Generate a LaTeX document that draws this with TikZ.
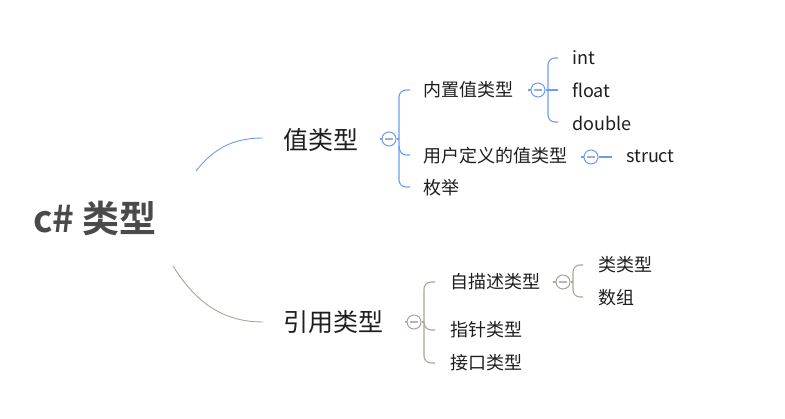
\documentclass[tikz,border=0pt]{standalone}
\usepackage{fontspec}
\setmainfont{Noto Sans CJK SC}
\newfontfamily\cjkbold{Noto Sans CJK SC Bold}
\definecolor{bl}{HTML}{6C9CF2}
\definecolor{gr}{HTML}{A9A693}
\definecolor{txt}{HTML}{1E1E1E}
\definecolor{ctr}{HTML}{4A4A4A}
\definecolor{mbl}{HTML}{A3AECB}
\definecolor{mgr}{HTML}{B4B4C8}
\tikzset{
  lbl/.style={anchor=west, inner sep=0pt, text=txt},
  lvone/.style={lbl, font=\fontsize{25}{25}\selectfont},
  lvtwo/.style={lbl, font=\fontsize{18}{18}\selectfont},
  bline/.style={draw=bl, line width=1.1pt},
  gline/.style={draw=gr, line width=1.1pt},
  bfold/.style={circle, minimum size=14pt, inner sep=0pt, draw=bl, fill=white, line width=1pt},
  gfold/.style={circle, minimum size=14pt, inner sep=0pt, draw=gr, fill=white, line width=1pt},
}
\newcommand{\minusmark}[2]{\draw[#2, line width=1.6pt] ([xshift=-4pt]#1.center) -- ([xshift=4pt]#1.center);}
\begin{document}
\begin{tikzpicture}[x=1pt,y=-1pt]
\useasboundingbox (0,0) rectangle (785,419);
% central
\node[anchor=west, inner sep=0pt, text=ctr, font=\cjkbold\fontsize{37}{37}\selectfont] (root) at (33,218) {c\# 类型};
\coordinate (rA) at (196,171);
\coordinate (rB) at (173,266);
% level 1
\node[lvone] (val) at (283,140) {值类型};
\node[lvone] (ref) at (283,322) {引用类型};
\coordinate (valL) at (263,138);
\coordinate (refL) at (263,322);
\draw[draw=bl, line width=0.9pt] (rA) to[out=52,in=180] (valL);
\draw[draw=gr, line width=0.9pt] (rB) to[out=-58,in=180] (refL);

% value type branch
\node[bfold] (f1) at (389,139) {};
\minusmark{f1}{mbl}
\draw[bline] (380,139) -- (f1.west);
\node[lvtwo] (b1) at (423,90) {内置值类型};
\node[lvtwo] (u1) at (423,156) {用户定义的值类型};
\node[lvtwo] (e1) at (423,188) {枚举};
\coordinate (b1s) at (410,90);
\coordinate (e1s) at (410,187);
\coordinate (u1s) at (410,155);
\draw[bline, rounded corners=7pt] (b1s) -- (399,90) -- (399,187) -- (e1s);
\draw[bline] (f1.east) -- (399,139);
\draw[bline] (399,146) to[out=-90,in=180] (406,155) -- (u1s);

% builtin children
\node[bfold] (f2) at (538,90) {};
\minusmark{f2}{mbl}
\draw[bline] (528,90) -- (f2.west);
\node[lvtwo] (int) at (572,58) {int};
\node[lvtwo] (flt) at (572,90) {float};
\node[lvtwo] (dbl) at (572,123) {double};
\draw[bline, rounded corners=7pt] (558,58) -- (548,58) -- (548,122) -- (558,122);
\draw[bline] (f2.east) -- (558,90);

% user defined child
\node[bfold] (f3) at (591,157) {};
\minusmark{f3}{mbl}
\draw[bline] (581,157) -- (f3.west);
\node[lvtwo] (str) at (626,156) {struct};
\draw[bline] (f3.east) -- (612,157);

% reference type branch
\node[gfold] (g1) at (414,322) {};
\minusmark{g1}{mgr}
\draw[gline] (405,322) -- (g1.west);
\node[lvtwo] (sd) at (450,282) {自描述类型};
\node[lvtwo] (pt) at (450,330) {指针类型};
\node[lvtwo] (it) at (450,363) {接口类型};
\draw[gline, rounded corners=7pt] (435,282) -- (424,282) -- (424,363) -- (435,363);
\draw[gline] (g1.east) -- (424,322);
\draw[gline] (424,322) to[out=-90,in=180] (431,330) -- (435,330);

% self-describing children
\node[gfold] (g2) at (563,282) {};
\minusmark{g2}{mgr}
\draw[gline] (553,282) -- (g2.west);
\node[lvtwo] (cls) at (598,265) {类类型};
\node[lvtwo] (arr) at (598,298) {数组};
\draw[gline, rounded corners=7pt] (583,265) -- (573,265) -- (573,297) -- (583,297);
\draw[gline] (g2.east) -- (573,282);
\end{tikzpicture}
\end{document}
